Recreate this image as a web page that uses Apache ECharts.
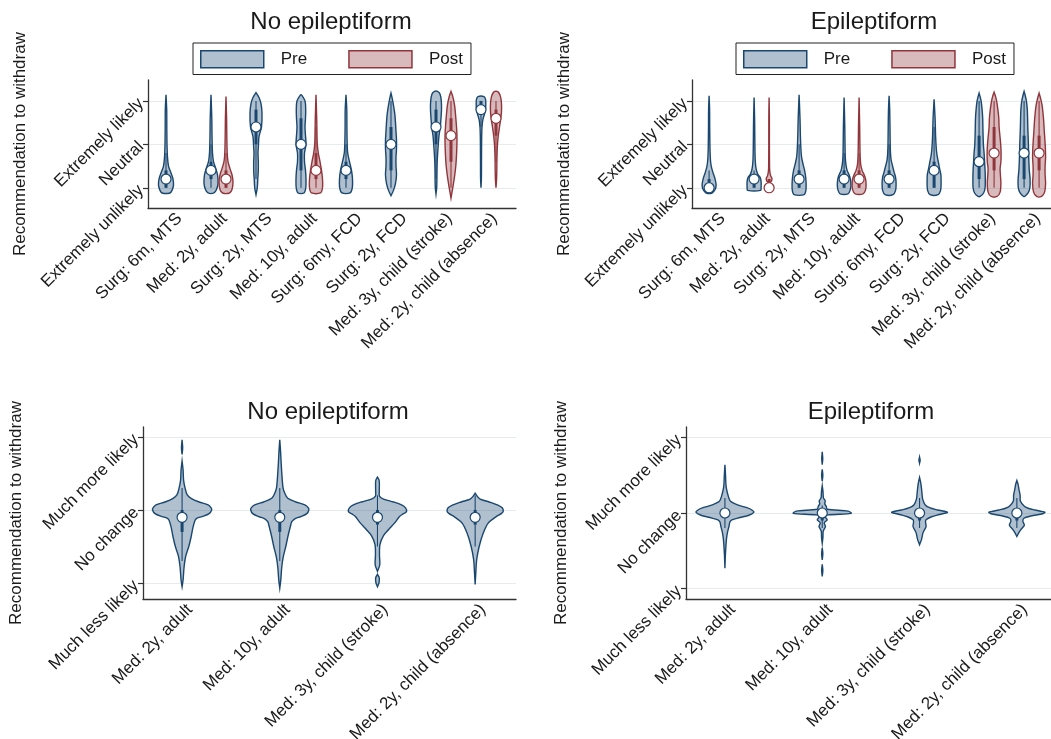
<!DOCTYPE html>
<html><head><meta charset="utf-8">
<script src="https://cdn.jsdelivr.net/npm/echarts@6/dist/echarts.min.js"></script>
<style>html,body{margin:0;padding:0;background:#fff}#c{width:1051px;height:739px}</style>
</head><body><div id="c"></div><script>
// ---------- data ----------
const topCategories = ['Surg: 6m, MTS','Med: 2y, adult','Surg: 2y, MTS','Med: 10y, adult','Surg: 6my, FCD','Surg: 2y, FCD','Med: 3y, child (stroke)','Med: 2y, child (absence)'];
const bottomCategories = ['Med: 2y, adult','Med: 10y, adult','Med: 3y, child (stroke)','Med: 2y, child (absence)'];
const topTickValues = [0, 5, 10];
const topTickLabels = ['Extremely unlikely','Neutral','Extremely likely'];
const bottomTickValues = [-10, 0, 10];
const bottomTickLabels = ['Much less likely','No change','Much more likely'];
const panelTitles = ['No epileptiform','Epileptiform','No epileptiform','Epileptiform'];
const groupNames = ['Pre','Post'];
const yTitle = 'Recommendation to withdraw';

// medians
const noEpiPreMedian  = [1, 2, 7, 5, 2, 5, 7, 9];
const noEpiPostMedian = [null, 1, null, 2, null, null, 6, 8];
const epiPreMedian    = [0, 1, 1, 1, 1, 2, 3, 4];
const epiPostMedian   = [null, 0, null, 1, null, null, 4, 4];
const chgNoEpiMedian  = [-1, -1, -1, -1];
const chgEpiMedian    = [0, 0, 0, 0];

// [lower adjacent, q1, q3, upper adjacent]
const noEpiPreBox  = [[0,0,2,4],[0,1,3,5],[1,5,9,10],[0,2,8,10],[0,1,3,5],[0,2,7,10],[1,5,9,10],[7,9,10,10]];
const noEpiPostBox = [null,[0,0,2,4],null,[0,1,4,7],null,null,[0,3,8,10],[3,6,9,10]];
const epiPreBox    = [[0,0,1,2],[0,0,1,2],[0,0,2,5],[0,0,2,4],[0,0,2,5],[0,0,3,7],[0,1,6,10],[0,1,6,10]];
const epiPostBox   = [null,[0,0,1,1],null,[0,0,2,4],null,null,[0,2,7,10],[0,2,6,10]];
const chgNoEpiBox  = [[-7,-3,0,3],[-7,-3,0,3],[-5,-2,0,2],[-5,-2,0,2]];
const chgEpiBox    = [[-2,0,0,2],[-2,-1,0,1],[-2,-1,0,2],[-2,-1,0,2]];

// density profiles: [value, density]; null splits a profile
const noEpiPreDensity = [
  [[-0.6,4],[-0.3,6],[0.3,7.5],[1,7],[1.7,5],[2.5,2.5],[3.5,1.5],[5,1],[7,0.8],[9,0.7],[10.7,0]],
  [[-0.6,3],[-0.2,5.5],[0.5,7],[1.5,6.5],[2.3,4.5],[3,2.5],[4,1.5],[6,1],[8,0.8],[10.7,0]],
  [[-0.8,0],[0,1.3],[1,1.8],[2,2.3],[3,2.3],[4,2],[5,2.5],[5.9,3],[7,5.5],[8.6,6],[9.7,5],[10.4,3],[10.96,0]],
  [[-0.6,3],[0,4.8],[1,5],[2,4.5],[3,3.5],[4,3.5],[5,5],[6,4.5],[7,4],[8,4.5],[9,4.7],[10,4],[10.7,0.5]],
  [[-0.6,4],[0,6.3],[1,6.5],[2,5.5],[3,3.5],[4,1.7],[5,1.2],[7,0.9],[9,0.8],[10.7,0]],
  [[-0.9,0],[-0.3,2.5],[0.5,4.5],[1.5,5.5],[2.5,5],[3.5,5],[4.5,5.5],[5.5,5.5],[6.5,5],[7.5,4.5],[8.5,3.8],[9.5,2.5],[10.4,1],[10.9,0]],
  [[-0.7,0],[0,0.7],[1,0.9],[2,1],[3,1.2],[4,1.7],[5,2.3],[6,3],[7,4.3],[8,5],[9,5.5],[10,5.3],[10.8,4],[11.1,1.5]],
  [[0,0],[1,0.4],[3,0.5],[5,0.6],[6,0.7],[7,1],[7.8,1.8],[8.5,3.5],[9,4.5],[9.7,4.8],[10.2,4.5],[10.5,3]]
];
const noEpiPostDensity = [
  null,
  [[-0.6,3.5],[-0.2,6],[0.7,7],[1.5,6],[2.2,4],[3,2],[4,1.2],[6,0.8],[8,0.6],[10.5,0]],
  null,
  [[-0.6,4.5],[0,6.5],[1,6.5],[2,5.5],[3,4],[4,2.3],[5,1.3],[6,1],[8,0.7],[10.7,0]],
  null, null,
  [[-1.2,0],[-0.4,1.2],[0.5,2.5],[1.5,3.8],[2.5,4.8],[3.5,5.4],[4.5,5.8],[5.5,6],[6.5,5.8],[7.5,5.2],[8.5,4.5],[9.5,3.6],[10.5,1.8],[11.1,0]],
  [[0,0],[1,0.6],[2,0.8],[3,0.9],[4,1.1],[5,1.5],[6,2.3],[7,3.5],[8,4.8],[8.8,5.5],[9.7,5.5],[10.5,4.5],[11,2.5],[11.1,1]]
];
const epiPreDensity = [
  [[-0.6,3],[-0.2,6],[0.3,7],[1,6],[1.7,4],[2.3,2.5],[3,1.5],[4,1],[5,0.8],[7,0.6],[9,0.5],[10.6,0]],
  [[-0.3,6.5],[0,7],[0.7,7],[1.2,6],[1.6,3.5],[2.2,2],[3,1.2],[4,0.9],[6,0.7],[8,0.5],[10.4,0]],
  [[-0.8,5],[-0.3,6.8],[0.5,7],[1.3,6.5],[2,5.5],[2.7,4],[3.5,2.5],[4.5,1.8],[6,1.3],[8,0.9],[10.7,0]],
  [[-0.7,4],[-0.3,6],[0.3,6.8],[1,6.3],[1.5,5],[2,3],[2.7,1.8],[3.5,1.2],[5,0.9],[7,0.7],[10.4,0]],
  [[-0.8,4],[-0.3,6.5],[0.4,7],[1.2,6.5],[1.8,5],[2.5,3.5],[3.2,2],[4,1.4],[5,1.1],[7,0.9],[9,0.6],[10.6,0]],
  [[-0.8,4],[-0.3,6.5],[0.5,7],[1.5,6.8],[2.2,5.5],[3,4.2],[3.7,3],[4.5,2.2],[6,1.5],[8,1],[10.2,0]],
  [[-1,1],[-0.6,4.5],[0,6],[1,6.2],[2,6],[3,5.5],[4,5],[5,4.3],[6,4],[7,3.8],[8,3.6],[9,3],[10,2],[10.5,1],[10.9,0]],
  [[-1,0.5],[-0.6,4],[0,5.8],[1,6],[2,5.2],[3,4.8],[4,4.5],[5,4.3],[6,4],[7,3.7],[8,3.5],[9,3.2],[10,2.3],[10.6,1.2],[11.1,0]]
];
const epiPostDensity = [
  null,
  [[-0.5,0.5],[-0.3,3],[0,4.5],[0.3,3.5],[0.55,1],[0.8,2.5],[1.1,2.8],[1.4,1.5],[2,0.6],[3,0.4],[5,0.3],[8,0.3],[10.4,0]],
  null,
  [[-0.7,4],[-0.3,6.3],[0.3,7],[1,6.5],[1.5,5],[2,3],[2.7,1.6],[3.5,1.1],[5,0.8],[7,0.6],[10.4,0]],
  null, null,
  [[-1,3],[-0.5,6],[0.5,6.8],[1.5,6.3],[2.2,6],[3,6.8],[4,7],[5,6.6],[6,5.8],[7,5],[8,4.7],[9,3.8],[10,2.5],[10.5,1.5],[11,0]],
  [[-1,2.5],[-0.5,5.5],[0.5,6.5],[1.5,6],[2.5,6],[3.5,6.5],[4.5,6.3],[5.5,5.8],[6.5,5.2],[7.5,4.7],[8.5,4],[9.5,3],[10.3,1.5],[10.9,0]]
];
const chgNoEpiDensity = [
  [[-10.5,0],[-9.6,1],[-7.8,2],[-6.4,3.5],[-5,6.7],[-3.7,9],[-2.3,11],[-1.4,13],[-1.1,15],[-0.9,20],[-0.5,27],[0,29.5],[0.3,29],[0.7,26],[1.1,17],[1.6,9],[2.1,5],[3,3],[4.1,1.5],[5.5,1],[6.7,0],null,[7.6,0],[8.5,0.6],[9.6,0]],
  [[-10.7,0],[-9.6,1],[-7.8,2],[-6.4,3.5],[-5,6],[-3.7,8],[-2.3,10.5],[-1.6,12],[-1.2,15],[-0.9,21],[-0.5,27],[0,29],[0.3,28.5],[0.7,25],[1.1,16],[1.6,8],[2.3,5],[3,3.3],[4.1,2.5],[5.5,1.8],[6.4,1.4],[8,0.8],[9.6,0]],
  [[-10.5,0],[-10,1.5],[-9.3,1.8],[-8.8,0],null,[-8.4,0],[-7.5,2.3],[-6.1,2],[-4.7,2.5],[-3.5,6],[-2.7,11],[-1.8,17],[-0.9,22],[-0.5,26],[-0.2,29],[0.3,28],[0.7,24],[1.1,16],[1.5,6],[1.9,2],[2.5,1.8],[3.5,1.9],[4.1,1.6],[4.5,0]],
  [[-10.2,0],[-8.5,0.7],[-6.8,1.5],[-5,4],[-3.2,8],[-1.8,13],[-0.9,21],[-0.5,26],[-0.2,28],[0.3,27],[0.7,22],[1.1,14],[1.5,5],[1.9,2],[2.3,0]]
];
const chgEpiDensity = [
  [[-7.3,0],[-5.5,0.5],[-3.5,1.5],[-2.6,2.5],[-1.8,4],[-1.2,5],[-0.9,7],[-0.6,15],[-0.3,24],[0.1,29],[0.4,27],[0.7,22],[1.1,12],[1.5,6],[1.8,4.5],[2.4,3],[3.5,1.2],[5,0.6],[6.4,0]],
  [[-8.4,0],[-7.6,0.6],[-6.8,0],null,[-6.2,0],[-5.4,0.6],[-4.6,0],null,[-4,0],[-3.2,0.7],[-2.4,1],[-1.8,3.2],[-1.3,2],[-0.9,5],[-0.5,3],[-0.25,6],[-0.05,29],[0.25,26],[0.5,5],[0.9,4],[1.2,2.5],[1.6,3],[2,1.2],[2.8,0.8],[3.6,0],null,[4.2,0],[5,0.6],[5.8,0],null,[6.4,0],[7.2,0.5],[8.1,0]],
  [[-4.2,0],[-3.5,2],[-2.6,3.5],[-1.8,6.5],[-1.2,6],[-0.9,6.5],[-0.5,12],[-0.2,20],[0.1,28],[0.4,18],[0.7,10],[1.1,5.5],[1.8,3.2],[2.5,2.5],[3.2,2],[4,1.2],[4.7,0],null,[6.6,0],[7,0.6],[7.4,0]],
  [[-3.1,0],[-2.6,2],[-2.2,4],[-1.6,7.5],[-1.1,6],[-0.7,7],[-0.4,14],[-0.1,26],[0.1,28],[0.4,18],[0.6,12],[0.9,7.5],[1.6,3.5],[2.3,3.3],[3.2,2],[3.8,1.2],[4.3,0]]
];

// ---------- style ----------
const NAVY = '#1a476f', MAROON = '#90353b';
const NAVY_FILL = 'rgba(26,71,111,0.34)', MAROON_FILL = 'rgba(144,53,59,0.34)';
const FONT = '"Liberation Sans", Arial, Helvetica, sans-serif';
const TXT = '#1a1a1a';
const POST_OFFSET = 1/3;
const TOP_LABEL_OFFSET = 0.3, BOTTOM_LABEL_OFFSET = 0.08;
const TOP_K = 1/45, BOTTOM_K = 1/97.5;

const panels = [
  {left:148, top:80,  width:368, height:128, xmin:-0.4,  xmax:7.778, ymin:-2.33,  ymax:12.41, cats:topCategories, ticks:topTickValues, tickLabels:topTickLabels, labOff:TOP_LABEL_OFFSET},
  {left:692, top:80,  width:368, height:128, xmin:-0.38, xmax:7.798, ymin:-2.33,  ymax:12.41, cats:topCategories, ticks:topTickValues, tickLabels:topTickLabels, labOff:TOP_LABEL_OFFSET},
  {left:143, top:427, width:373, height:172, xmin:-0.4,  xmax:3.418, ymin:-12.19, ymax:11.37, cats:bottomCategories, ticks:bottomTickValues, tickLabels:bottomTickLabels, labOff:BOTTOM_LABEL_OFFSET},
  {left:686, top:427, width:373, height:172, xmin:-0.4,  xmax:3.433, ymin:-11.39, ymax:11.39, cats:bottomCategories, ticks:bottomTickValues, tickLabels:bottomTickLabels, labOff:BOTTOM_LABEL_OFFSET}
];

function violinSeries(name, panel, medians, boxes, dens, offset, stroke, fill, k) {
  const data = [];
  medians.forEach((m, i) => { if (m !== null) data.push([i + offset, m, i]); });
  return {
    type: 'custom', name, xAxisIndex: panel, yAxisIndex: panel,
    itemStyle: {color: fill, borderColor: stroke},
    silent: true, clip: false, z: 3,
    data,
    renderItem: function (params, api) {
      const x = api.value(0), med = api.value(1), i = api.value(2);
      const prof = dens[i], box = boxes[i];
      const pieces = []; let cur = [];
      prof.forEach(p => { if (p === null) { if (cur.length) pieces.push(cur); cur = []; } else cur.push(p); });
      if (cur.length) pieces.push(cur);
      const children = [];
      pieces.forEach(pc => {
        const right = pc.map(p => api.coord([x + p[1] * k, p[0]]));
        const left = pc.slice().reverse().map(p => api.coord([x - p[1] * k, p[0]]));
        children.push({type: 'polygon', shape: {points: right.concat(left), smooth: 0.3},
          style: {fill: fill, stroke: stroke, lineWidth: 1.4}});
      });
      const a = api.coord([x, box[0]]), b = api.coord([x, box[3]]);
      children.push({type: 'line', shape: {x1: a[0], y1: a[1], x2: b[0], y2: b[1]}, style: {stroke: stroke, lineWidth: 1.1}});
      if (box[2] > box[1]) {
        const q1 = api.coord([x, box[1]]), q3 = api.coord([x, box[2]]);
        children.push({type: 'rect', shape: {x: q1[0] - 1.5, y: q3[1], width: 3, height: q1[1] - q3[1]}, style: {fill: stroke}});
      }
      const c = api.coord([x, med]);
      children.push({type: 'circle', shape: {cx: c[0], cy: c[1], r: 5}, style: {fill: '#fff', stroke: stroke, lineWidth: 1.2}});
      return {type: 'group', children};
    }
  };
}

const grid = panels.map(p => ({left: p.left, top: p.top, width: p.width, height: p.height, containLabel: false, outerBoundsMode: 'none'}));
const xAxis = panels.map((p, gi) => ({
  type: 'value', gridIndex: gi, min: p.xmin, max: p.xmax,
  axisLine: {show: true, onZero: false, lineStyle: {color: '#333', width: 1.3}},
  axisTick: {show: false}, splitLine: {show: false},
  axisLabel: {
    customValues: p.cats.map((c, i) => i + p.labOff),
    formatter: v => p.cats[Math.round(v - p.labOff)] || '',
    rotate: 45, margin: 8, fontSize: 17, fontFamily: FONT, color: TXT
  }
}));
const yAxis = panels.map((p, gi) => ({
  type: 'value', gridIndex: gi, min: p.ymin, max: p.ymax,
  axisLine: {show: true, onZero: false, lineStyle: {color: '#333', width: 1.3}},
  axisTick: {show: true, customValues: p.ticks, length: 5, lineStyle: {color: '#333', width: 1.2}},
  splitLine: {show: true, lineStyle: {color: '#e4ecf0', width: 1}},
  axisLabel: {
    customValues: p.ticks,
    formatter: v => p.tickLabels[p.ticks.indexOf(Math.round(v))] || '',
    rotate: 45, margin: 7, fontSize: 17, fontFamily: FONT, color: TXT
  }
}));

const series = [
  violinSeries(groupNames[0], 0, noEpiPreMedian, noEpiPreBox, noEpiPreDensity, 0, NAVY, NAVY_FILL, TOP_K),
  violinSeries(groupNames[1], 0, noEpiPostMedian, noEpiPostBox, noEpiPostDensity, POST_OFFSET, MAROON, MAROON_FILL, TOP_K),
  violinSeries(groupNames[0], 1, epiPreMedian, epiPreBox, epiPreDensity, 0, NAVY, NAVY_FILL, TOP_K),
  violinSeries(groupNames[1], 1, epiPostMedian, epiPostBox, epiPostDensity, POST_OFFSET, MAROON, MAROON_FILL, TOP_K),
  violinSeries(groupNames[0], 2, chgNoEpiMedian, chgNoEpiBox, chgNoEpiDensity, 0, NAVY, NAVY_FILL, BOTTOM_K),
  violinSeries(groupNames[0], 3, chgEpiMedian, chgEpiBox, chgEpiDensity, 0, NAVY, NAVY_FILL, BOTTOM_K)
];

const legendData = [
  {name: groupNames[0], icon: 'rect', itemStyle: {color: NAVY_FILL, borderColor: NAVY, borderWidth: 1.5}},
  {name: groupNames[1], icon: 'rect', itemStyle: {color: MAROON_FILL, borderColor: MAROON, borderWidth: 1.5}}
];
const legendBase = {
  top: 43, orient: 'horizontal', data: legendData, selectedMode: false,
  itemWidth: 63, itemHeight: 17, itemGap: 41,
  borderColor: '#222', borderWidth: 1, padding: [7, 8, 6, 7],
  textStyle: {fontSize: 17, fontFamily: FONT, color: TXT, padding: [0, 0, 0, 12]}
};
const legend = [Object.assign({left: 193}, legendBase), Object.assign({left: 736}, legendBase)];

const titlePos = [[331, 22], [874, 22], [328, 412], [871, 412]];
const yTitlePos = [[20, 144], [564, 144], [16, 513], [561, 513]];
const graphic = [];
panelTitles.forEach((t, i) => graphic.push({type: 'text', x: titlePos[i][0], y: titlePos[i][1],
  style: {text: t, font: '24px ' + FONT, fill: TXT, textAlign: 'center', textVerticalAlign: 'middle'}}));
yTitlePos.forEach(p => graphic.push({type: 'text', x: p[0], y: p[1], rotation: Math.PI / 2,
  style: {text: yTitle, font: '17px ' + FONT, fill: TXT, textAlign: 'center', textVerticalAlign: 'middle'}}));

const chart = echarts.init(document.getElementById('c'), null, {renderer: 'canvas'});
chart.setOption({
  backgroundColor: '#fff', animation: false,
  grid, xAxis, yAxis, series, legend, graphic
});
</script></body></html>
